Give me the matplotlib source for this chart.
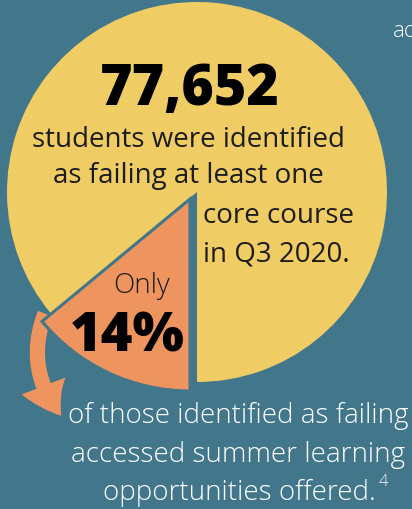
import matplotlib.pyplot as plt
from matplotlib.patches import FancyArrowPatch

# data
shares = [14, 86]          # % accessed summer learning vs not
failing_count = "77,652"
pct_label = "14%"

bg = "#41768b"
yellow = "#f0cd64"
orange = "#ee945e"
dark = "#1c1c1c"

plt.rcParams['font.family'] = ['Open Sans', 'DejaVu Sans']

fig = plt.figure(figsize=(4.12, 5.10), dpi=100)
fig.patch.set_facecolor(bg)
ax = fig.add_axes([0, 0, 1, 1])
ax.set_facecolor(bg)

# big yellow pie (orange share hidden)
w1, _ = ax.pie(shares, colors=["none", yellow], startangle=90, counterclock=True,
               center=(197, 193), radius=190, wedgeprops=dict(linewidth=0))
# pulled out orange slice
w2, _ = ax.pie(shares, colors=[orange, "none"], startangle=90, counterclock=True,
               center=(190, 200), radius=192,
               wedgeprops=dict(linewidth=2.2, edgecolor=bg))
w2[1].set_visible(False)
w1[0].set_visible(False)
for w in w2:
    w.set_zorder(3)

# curved arrow out of the slice
arr = FancyArrowPatch((46, 312), (63, 419), connectionstyle="arc3,rad=0.3",
                      arrowstyle="simple,head_width=0.68,head_length=0.5,tail_width=0.22",
                      mutation_scale=50, color=orange, lw=0, zorder=2)
ax.add_patch(arr)

ax.set_xlim(0, 412)
ax.set_ylim(510, 0)
ax.axis('off')

fs = 20
ax.text(190, 105, failing_count, ha='center', va='baseline', fontsize=40,
        fontweight='heavy', color='black', zorder=5)
ax.text(188.5, 147, "students were identified", ha='center', va='baseline',
        fontsize=fs, color=dark, zorder=5)
ax.text(188.5, 183, "as failing at least one", ha='center', va='baseline',
        fontsize=fs, color=dark, zorder=5)
ax.text(203, 223, "core course", ha='left', va='baseline', fontsize=fs,
        color=dark, zorder=5)
ax.text(203, 262, "in Q3 2020.", ha='left', va='baseline', fontsize=fs,
        color=dark, zorder=5)
ax.text(141.5, 293, "Only", ha='center', va='baseline', fontsize=20,
        fontweight='light', color=dark, zorder=5)
ax.text(127.5, 352, pct_label, ha='center', va='baseline', fontsize=39,
        fontweight='heavy', color='black', zorder=5)

ax.text(238.5, 423, "of those identified as failing", ha='center', va='baseline',
        fontsize=fs, fontweight='light', color='white', zorder=5)
ax.text(238, 462, "accessed summer learning", ha='center', va='baseline',
        fontsize=fs, fontweight='light', color='white', zorder=5)
ax.text(239, 500, "opportunities offered.", ha='center', va='baseline',
        fontsize=fs, fontweight='light', color='white', zorder=5)
ax.text(379, 486, "4", ha='left', va='baseline', fontsize=12,
        fontweight='light', color='white', zorder=5)
ax.text(393, 37, "ac", ha='left', va='baseline', fontsize=16,
        fontweight='light', color='white', zorder=5)

fig.savefig("out.png", dpi=100, facecolor=bg)
